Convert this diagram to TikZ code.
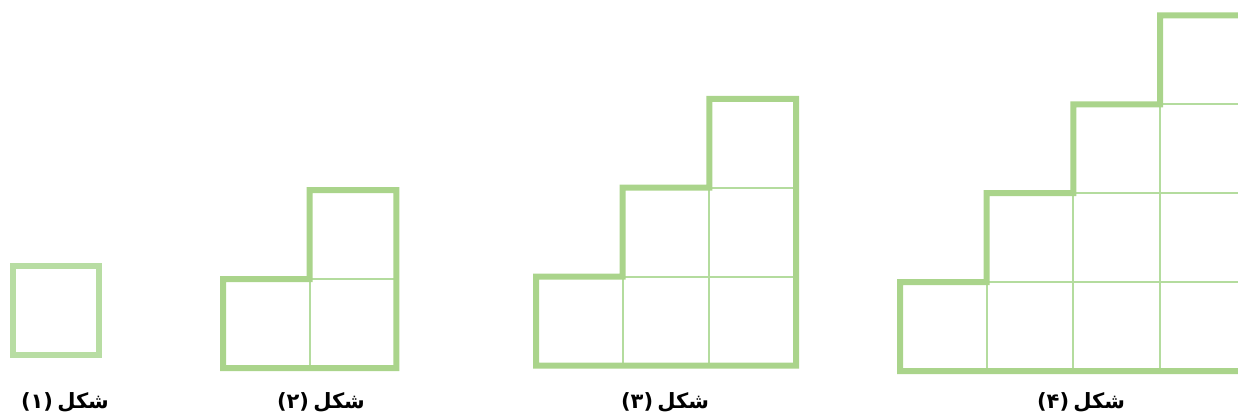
\documentclass[tikz,border=0pt]{standalone}
\usepackage{fontspec}
\newfontfamily\arabicfont[Script=Arabic]{DejaVu Sans}
\TeXXeTstate=1
\usetikzlibrary{positioning}
\definecolor{framegreen}{RGB}{170,212,139}
\definecolor{palegreen}{RGB}{184,221,163}
\definecolor{gridgreen}{RGB}{180,220,158}
\begin{document}
\begin{tikzpicture}[
  x=0.5pt, y=-0.5pt,
  outline/.style={line width=3pt, line join=miter, line cap=rect},
  cellline/.style={line width=1pt, draw=gridgreen},
  caption/.style={font=\arabicfont\bfseries\fontsize{10.5}{13}\selectfont, inner sep=0pt, anchor=base}
]
\useasboundingbox (0,0) rectangle (1238,417);
\clip (0,0) rectangle (1238,417);
\def\w{86.7}
\def\h{88.9}
% staircases: left x / bottom y / steps / colour / caption x / digit
\foreach \xo/\yb/\n/\col/\cx/\num in {12.5/355/1/palegreen/65/۱, 223/368/2/framegreen/321/۲, 536/365.5/3/framegreen/665/۳, 900/371/4/framegreen/1081/۴} {
  \pgfmathtruncatemacro\m{\n-1}
  % inner cell lines
  \ifnum\m>0
    \foreach \k in {1,...,\m} {
      \draw[cellline] (\xo+\k*\w,\yb) -- (\xo+\k*\w,\yb-\k*\h);
      \draw[cellline] (\xo+\k*\w,\yb-\k*\h) -- (\xo+\n*\w,\yb-\k*\h);
    }
  \fi
  % outer stairs
  \draw[outline, draw=\col] (\xo,\yb) \foreach \k in {1,...,\n} { -- ++(0,-\h) -- ++(\w,0) }
    -- (\xo+\n*\w,\yb) -- cycle;
  \node[caption] (cap\n) at (\cx,408) {\beginR شکل\hspace{0.2em}(\num)\endR};
}
\end{tikzpicture}
\end{document}
